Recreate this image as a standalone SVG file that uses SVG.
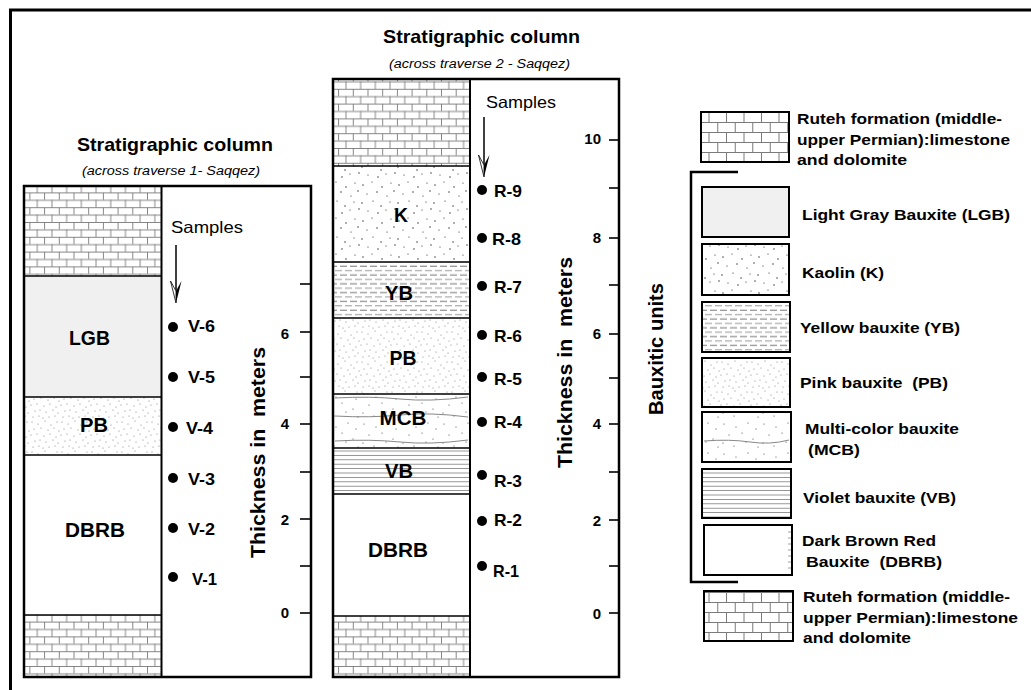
<svg xmlns="http://www.w3.org/2000/svg" width="1031" height="690" viewBox="0 0 1031 690">
<style>
text{font-family:"Liberation Sans",Arial,sans-serif;fill:#000}
.t{font-weight:bold;font-size:18.5px}
.st{font-style:italic;font-size:12.5px}
.smp{font-size:16.5px}
.lay{font-weight:bold;font-size:19.5px}
.lab{font-weight:bold;font-size:17px}
.num{font-weight:bold;font-size:15px}
.ax{font-weight:bold;font-size:21px}
.lg{font-weight:bold;font-size:15.5px}
.box{stroke:#000;stroke-width:2.5;fill:none}
.bd{stroke:#000;stroke-width:1.5}
.tk{stroke:#000;stroke-width:1.6}
.lbox{stroke:#000;stroke-width:2}
</style>
<defs>
<pattern id="lime" width="29.4" height="14.8" patternUnits="userSpaceOnUse">
<rect width="29.4" height="14.8" fill="#fff"/>
<g stroke="#7a7a7a" stroke-width="0.9">
<line x1="0" y1="0.5" x2="29.4" y2="0.5"/>
<line x1="0" y1="7.9" x2="29.4" y2="7.9"/>
<line x1="0.5" y1="0" x2="0.5" y2="7.4"/>
<line x1="15.2" y1="0" x2="15.2" y2="7.4"/>
<line x1="7.85" y1="7.4" x2="7.85" y2="14.8"/>
<line x1="22.55" y1="7.4" x2="22.55" y2="14.8"/>
</g>
</pattern>
<pattern id="limeL" width="35" height="20" patternUnits="userSpaceOnUse" x="701" y="112">
<rect width="35" height="20" fill="#fff"/>
<g stroke="#7a7a7a" stroke-width="1">
<line x1="0" y1="0.5" x2="35" y2="0.5"/>
<line x1="0" y1="10.5" x2="35" y2="10.5"/>
<line x1="8" y1="0" x2="8" y2="10"/>
<line x1="25.5" y1="0" x2="25.5" y2="10"/>
<line x1="16.75" y1="10" x2="16.75" y2="20"/>
<line x1="34.25" y1="10" x2="34.25" y2="20"/>
</g>
</pattern>
<pattern id="kao" width="36" height="36" patternUnits="userSpaceOnUse">
<rect width="36" height="36" fill="#fff"/>
<g fill="#222">
<circle cx="3" cy="5" r="0.7"/><circle cx="12" cy="2" r="0.6"/><circle cx="22" cy="7" r="0.7"/><circle cx="31" cy="3" r="0.6"/>
<circle cx="7" cy="14" r="0.6"/><circle cx="17" cy="12" r="0.7"/><circle cx="27" cy="16" r="0.6"/><circle cx="34" cy="11" r="0.7"/>
<circle cx="2" cy="23" r="0.7"/><circle cx="13" cy="21" r="0.6"/><circle cx="21" cy="26" r="0.7"/><circle cx="30" cy="22" r="0.6"/>
<circle cx="8" cy="31" r="0.6"/><circle cx="18" cy="33" r="0.7"/><circle cx="26" cy="30" r="0.6"/><circle cx="35" cy="29" r="0.7"/>
</g>
</pattern>
<pattern id="pink" width="30" height="30" patternUnits="userSpaceOnUse">
<rect width="30" height="30" fill="#fff"/>
<g fill="#666">
<circle cx="2" cy="2" r="0.5"/><circle cx="8" cy="4" r="0.5"/><circle cx="15" cy="1" r="0.5"/><circle cx="21" cy="5" r="0.5"/><circle cx="27" cy="2" r="0.5"/>
<circle cx="4" cy="9" r="0.5"/><circle cx="11" cy="8" r="0.5"/><circle cx="18" cy="10" r="0.5"/><circle cx="24" cy="8" r="0.5"/><circle cx="29" cy="11" r="0.5"/>
<circle cx="1" cy="15" r="0.5"/><circle cx="7" cy="14" r="0.5"/><circle cx="14" cy="16" r="0.5"/><circle cx="20" cy="14" r="0.5"/><circle cx="26" cy="17" r="0.5"/>
<circle cx="5" cy="21" r="0.5"/><circle cx="10" cy="20" r="0.5"/><circle cx="16" cy="22" r="0.5"/><circle cx="23" cy="20" r="0.5"/><circle cx="28" cy="23" r="0.5"/>
<circle cx="3" cy="27" r="0.5"/><circle cx="9" cy="26" r="0.5"/><circle cx="13" cy="28" r="0.5"/><circle cx="19" cy="27" r="0.5"/><circle cx="25" cy="26" r="0.5"/>
</g>
</pattern>
<pattern id="mcb" width="40" height="30" patternUnits="userSpaceOnUse">
<rect width="40" height="30" fill="#fff"/>
<g fill="#444">
<circle cx="4" cy="4" r="0.6"/><circle cx="16" cy="7" r="0.6"/><circle cx="28" cy="3" r="0.6"/><circle cx="36" cy="9" r="0.6"/>
<circle cx="9" cy="15" r="0.6"/><circle cx="22" cy="13" r="0.6"/><circle cx="33" cy="19" r="0.6"/>
<circle cx="3" cy="23" r="0.6"/><circle cx="14" cy="26" r="0.6"/><circle cx="26" cy="22" r="0.6"/><circle cx="38" cy="27" r="0.6"/>
</g>
</pattern>
<pattern id="yel" width="10" height="8.8" patternUnits="userSpaceOnUse">
<rect width="10" height="8.8" fill="#fff"/>
<line x1="0" y1="2.2" x2="7" y2="2.2" stroke="#777" stroke-width="1"/>
<line x1="5" y1="6.6" x2="10" y2="6.6" stroke="#999" stroke-width="1"/>
<line x1="0" y1="6.6" x2="2" y2="6.6" stroke="#999" stroke-width="1"/>
</pattern>
<pattern id="vio" width="4" height="4.4" patternUnits="userSpaceOnUse">
<rect width="4" height="4.4" fill="#fff"/>
<line x1="0" y1="2.2" x2="4" y2="2.2" stroke="#888" stroke-width="0.9"/>
</pattern>
</defs>
<rect width="1031" height="690" fill="#fff"/>
<path d="M10.5 690 V10 H1031" fill="none" stroke="#000" stroke-width="3"/>

<g id="column1">
<text class="t" x="175" y="151" text-anchor="middle" textLength="196" lengthAdjust="spacingAndGlyphs">Stratigraphic column</text>
<text class="st" x="171" y="175" text-anchor="middle" textLength="178" lengthAdjust="spacingAndGlyphs">(across traverse 1- Saqqez)</text>
<rect x="24" y="186" width="137" height="90" fill="url(#lime)"/>
<rect x="24" y="276" width="137" height="121" fill="#f0f0f0"/>
<rect x="24" y="397" width="137" height="58" fill="url(#pink)"/>
<rect x="24" y="455" width="137" height="160" fill="#fff"/>
<rect x="24" y="615" width="137" height="62" fill="url(#lime)"/>
<g class="bd">
<line x1="24" y1="276" x2="161" y2="276"/><line x1="24" y1="397" x2="161" y2="397"/>
<line x1="24" y1="455" x2="161" y2="455"/><line x1="24" y1="615" x2="161" y2="615"/>
</g>
<line x1="161.5" y1="186" x2="161.5" y2="677" stroke="#000" stroke-width="2"/>
<rect class="box" x="24" y="186" width="287" height="491"/>
<text class="lay" x="89.5" y="345" text-anchor="middle" textLength="41" lengthAdjust="spacingAndGlyphs">LGB</text>
<text class="lay" x="94" y="432" text-anchor="middle" textLength="28" lengthAdjust="spacingAndGlyphs">PB</text>
<text class="lay" x="95" y="537" text-anchor="middle" textLength="60" lengthAdjust="spacingAndGlyphs">DBRB</text>
<text class="smp" x="171" y="233" textLength="72" lengthAdjust="spacingAndGlyphs">Samples</text>
<g fill="#000">
<circle cx="173" cy="327" r="5"/><circle cx="173" cy="377" r="5"/><circle cx="173" cy="427" r="5"/>
<circle cx="173" cy="478" r="5"/><circle cx="173" cy="528" r="5"/><circle cx="173" cy="577" r="5"/>
</g>
<text class="lab" x="188" y="332" textLength="27" lengthAdjust="spacingAndGlyphs">V-6</text>
<text class="lab" x="188" y="383" textLength="27" lengthAdjust="spacingAndGlyphs">V-5</text>
<text class="lab" x="186" y="434" textLength="27" lengthAdjust="spacingAndGlyphs">V-4</text>
<text class="lab" x="188" y="485" textLength="27" lengthAdjust="spacingAndGlyphs">V-3</text>
<text class="lab" x="188" y="535" textLength="27" lengthAdjust="spacingAndGlyphs">V-2</text>
<text class="lab" x="192" y="585" textLength="25" lengthAdjust="spacingAndGlyphs">V-1</text>
<g class="tk">
<line x1="300" y1="613" x2="311" y2="613"/><line x1="300" y1="566" x2="311" y2="566"/>
<line x1="300" y1="519" x2="311" y2="519"/><line x1="300" y1="472" x2="311" y2="472"/>
<line x1="300" y1="424" x2="311" y2="424"/><line x1="300" y1="377" x2="311" y2="377"/>
<line x1="300" y1="332" x2="311" y2="332"/><line x1="300" y1="284" x2="311" y2="284"/>
</g>
<g class="num" text-anchor="end">
<text x="289" y="618">0</text><text x="289" y="525">2</text><text x="289" y="429">4</text><text x="289" y="339">6</text>
</g>
<text class="ax" transform="translate(265,452.5) rotate(-90)" text-anchor="middle" textLength="211" lengthAdjust="spacingAndGlyphs" xml:space="preserve">Thickness in  meters</text>
</g>

<g id="column2">
<text class="t" x="481.5" y="43" text-anchor="middle" textLength="197" lengthAdjust="spacingAndGlyphs">Stratigraphic column</text>
<text class="st" x="479.5" y="68" text-anchor="middle" textLength="181" lengthAdjust="spacingAndGlyphs">(across traverse 2 - Saqqez)</text>
<rect x="333" y="79" width="137" height="87" fill="url(#lime)"/>
<rect x="333" y="166" width="137" height="96" fill="url(#kao)"/>
<rect x="333" y="262" width="137" height="56" fill="url(#yel)"/>
<rect x="333" y="318" width="137" height="76" fill="url(#pink)"/>
<rect x="333" y="394" width="137" height="54" fill="url(#mcb)"/>
<g fill="none" stroke="#888" stroke-width="1">
<path d="M335 398 Q370 396 400 399 T468 397"/>
<path d="M335 416 Q370 418 400 415 T468 417"/>
<path d="M335 441 Q370 439 400 442 T468 440"/>
</g>
<rect x="333" y="448" width="137" height="46" fill="url(#vio)"/>
<rect x="333" y="494" width="137" height="122" fill="#fff"/>
<rect x="333" y="616" width="137" height="61" fill="url(#lime)"/>
<g class="bd">
<line x1="333" y1="166" x2="470" y2="166"/><line x1="333" y1="262" x2="470" y2="262"/>
<line x1="333" y1="318" x2="470" y2="318"/><line x1="333" y1="394" x2="470" y2="394"/>
<line x1="333" y1="448" x2="470" y2="448"/><line x1="333" y1="494" x2="470" y2="494"/>
<line x1="333" y1="616" x2="470" y2="616"/>
</g>
<line x1="470" y1="79" x2="470" y2="677" stroke="#000" stroke-width="2"/>
<rect class="box" x="333" y="79" width="286" height="598"/>
<text class="lay" x="401" y="222" text-anchor="middle" textLength="14" lengthAdjust="spacingAndGlyphs">K</text>
<text class="lay" x="399" y="300" text-anchor="middle" textLength="28" lengthAdjust="spacingAndGlyphs">YB</text>
<text class="lay" x="403" y="365" text-anchor="middle" textLength="27" lengthAdjust="spacingAndGlyphs">PB</text>
<text class="lay" x="403" y="425" text-anchor="middle" textLength="47" lengthAdjust="spacingAndGlyphs">MCB</text>
<text class="lay" x="399" y="478" text-anchor="middle" textLength="28" lengthAdjust="spacingAndGlyphs">VB</text>
<text class="lay" x="398" y="557" text-anchor="middle" textLength="60" lengthAdjust="spacingAndGlyphs">DBRB</text>
<text class="smp" x="486" y="108" textLength="70" lengthAdjust="spacingAndGlyphs">Samples</text>
<g fill="#000">
<circle cx="482" cy="190" r="5"/><circle cx="482" cy="238" r="5"/><circle cx="482" cy="286" r="5"/>
<circle cx="482" cy="335" r="5"/><circle cx="482" cy="377" r="5"/><circle cx="482" cy="422" r="5"/>
<circle cx="482" cy="475" r="5"/><circle cx="482" cy="521" r="5"/><circle cx="482" cy="566" r="5"/>
</g>
<text class="lab" x="494" y="197" textLength="28" lengthAdjust="spacingAndGlyphs">R-9</text>
<text class="lab" x="492" y="245" textLength="29" lengthAdjust="spacingAndGlyphs">R-8</text>
<text class="lab" x="494" y="293" textLength="28" lengthAdjust="spacingAndGlyphs">R-7</text>
<text class="lab" x="494" y="342" textLength="28" lengthAdjust="spacingAndGlyphs">R-6</text>
<text class="lab" x="494" y="385" textLength="28" lengthAdjust="spacingAndGlyphs">R-5</text>
<text class="lab" x="494" y="428" textLength="28" lengthAdjust="spacingAndGlyphs">R-4</text>
<text class="lab" x="494" y="487" textLength="28" lengthAdjust="spacingAndGlyphs">R-3</text>
<text class="lab" x="494" y="526" textLength="28" lengthAdjust="spacingAndGlyphs">R-2</text>
<text class="lab" x="493" y="577" textLength="26" lengthAdjust="spacingAndGlyphs">R-1</text>
<g class="tk">
<line x1="609" y1="613" x2="619" y2="613"/><line x1="609" y1="566" x2="619" y2="566"/>
<line x1="609" y1="520" x2="619" y2="520"/><line x1="609" y1="472" x2="619" y2="472"/>
<line x1="609" y1="424" x2="619" y2="424"/><line x1="609" y1="378" x2="619" y2="378"/>
<line x1="609" y1="334" x2="619" y2="334"/><line x1="609" y1="285" x2="619" y2="285"/>
<line x1="609" y1="238" x2="619" y2="238"/><line x1="609" y1="188" x2="619" y2="188"/>
<line x1="609" y1="140" x2="619" y2="140"/>
</g>
<g class="num" text-anchor="end">
<text x="601" y="619">0</text><text x="601" y="526">2</text><text x="601" y="429">4</text>
<text x="601" y="339">6</text><text x="601" y="243">8</text><text x="601" y="144">10</text>
</g>
<text class="ax" transform="translate(572,362.5) rotate(-90)" text-anchor="middle" textLength="211" lengthAdjust="spacingAndGlyphs" xml:space="preserve">Thickness in  meters</text>
</g>

<g id="legend">
<text class="ax" transform="translate(663,349) rotate(-90)" text-anchor="middle" textLength="132" lengthAdjust="spacingAndGlyphs">Bauxitic units</text>
<path d="M738 172 H691 V582 H738" fill="none" stroke="#000" stroke-width="2.5"/>
<g id="legend-ruteh-top">
<rect class="lbox" x="701" y="112" width="88" height="50" fill="url(#limeL)"/>
<text class="lg" x="797" y="124" textLength="205" lengthAdjust="spacingAndGlyphs">Ruteh formation (middle-</text>
<text class="lg" x="797" y="145" textLength="213" lengthAdjust="spacingAndGlyphs">upper Permian):limestone</text>
<text class="lg" x="797" y="165" textLength="110" lengthAdjust="spacingAndGlyphs">and dolomite</text>
</g>
<g id="legend-lgb">
<rect class="lbox" x="702" y="187" width="87" height="50" fill="#f0f0f0"/>
<text class="lg" x="802" y="220" textLength="208" lengthAdjust="spacingAndGlyphs">Light Gray Bauxite (LGB)</text>
</g>
<g id="legend-k">
<rect class="lbox" x="702" y="244" width="87" height="51" fill="url(#kao)"/>
<text class="lg" x="802" y="278" textLength="82" lengthAdjust="spacingAndGlyphs">Kaolin (K)</text>
</g>
<g id="legend-yb">
<rect class="lbox" x="702" y="302" width="88" height="50" fill="url(#yel)"/>
<text class="lg" x="800" y="333" textLength="160" lengthAdjust="spacingAndGlyphs">Yellow bauxite (YB)</text>
</g>
<g id="legend-pb">
<rect class="lbox" x="702" y="358" width="88" height="49" fill="url(#pink)"/>
<text class="lg" x="800" y="388" textLength="148" lengthAdjust="spacingAndGlyphs" xml:space="preserve">Pink bauxite  (PB)</text>
</g>
<g id="legend-mcb">
<rect class="lbox" x="702" y="412" width="89" height="50" fill="url(#mcb)"/>
<path d="M704 441 Q730 439 750 442 T789 440" fill="none" stroke="#888" stroke-width="1"/>
<text class="lg" x="805" y="434" textLength="154" lengthAdjust="spacingAndGlyphs">Multi-color bauxite</text>
<text class="lg" x="808" y="455" textLength="52" lengthAdjust="spacingAndGlyphs">(MCB)</text>
</g>
<g id="legend-vb">
<rect class="lbox" x="702" y="469" width="89" height="49" fill="url(#vio)"/>
<text class="lg" x="803" y="503" textLength="153" lengthAdjust="spacingAndGlyphs">Violet bauxite (VB)</text>
</g>
<g id="legend-dbrb">
<rect class="lbox" x="704" y="525" width="88" height="50" fill="#fff"/>
<path d="M788 532h3M788 538h3M788 544h3M788 550h3M788 556h3M788 562h3M788 568h3" stroke="#888" stroke-width="0.8"/>
<text class="lg" x="802" y="546" textLength="134" lengthAdjust="spacingAndGlyphs">Dark Brown Red</text>
<text class="lg" x="806" y="567" textLength="136" lengthAdjust="spacingAndGlyphs" xml:space="preserve">Bauxite  (DBRB)</text>
</g>
<g id="legend-ruteh-bottom">
<rect class="lbox" x="704" y="591" width="89" height="50" fill="url(#limeL)"/>
<text class="lg" x="803" y="602" textLength="207" lengthAdjust="spacingAndGlyphs">Ruteh formation (middle-</text>
<text class="lg" x="803" y="623" textLength="215" lengthAdjust="spacingAndGlyphs">upper Permian):limestone</text>
<text class="lg" x="803" y="643" textLength="108" lengthAdjust="spacingAndGlyphs">and dolomite</text>
</g>
</g>

<g id="connectors">
<line x1="176" y1="245" x2="176" y2="295" stroke="#000" stroke-width="1.5"/>
<path d="M176 303 L181.5 281 L176 291 Z" fill="#000"/>
<path d="M176 303 L170.5 281 L176 291 Z" fill="#fff" stroke="#000" stroke-width="0.8"/>
<line x1="484" y1="117" x2="484" y2="169" stroke="#000" stroke-width="1.5"/>
<path d="M484 177 L489.5 155 L484 165 Z" fill="#000"/>
<path d="M484 177 L478.5 155 L484 165 Z" fill="#fff" stroke="#000" stroke-width="0.8"/>
</g>
</svg>
